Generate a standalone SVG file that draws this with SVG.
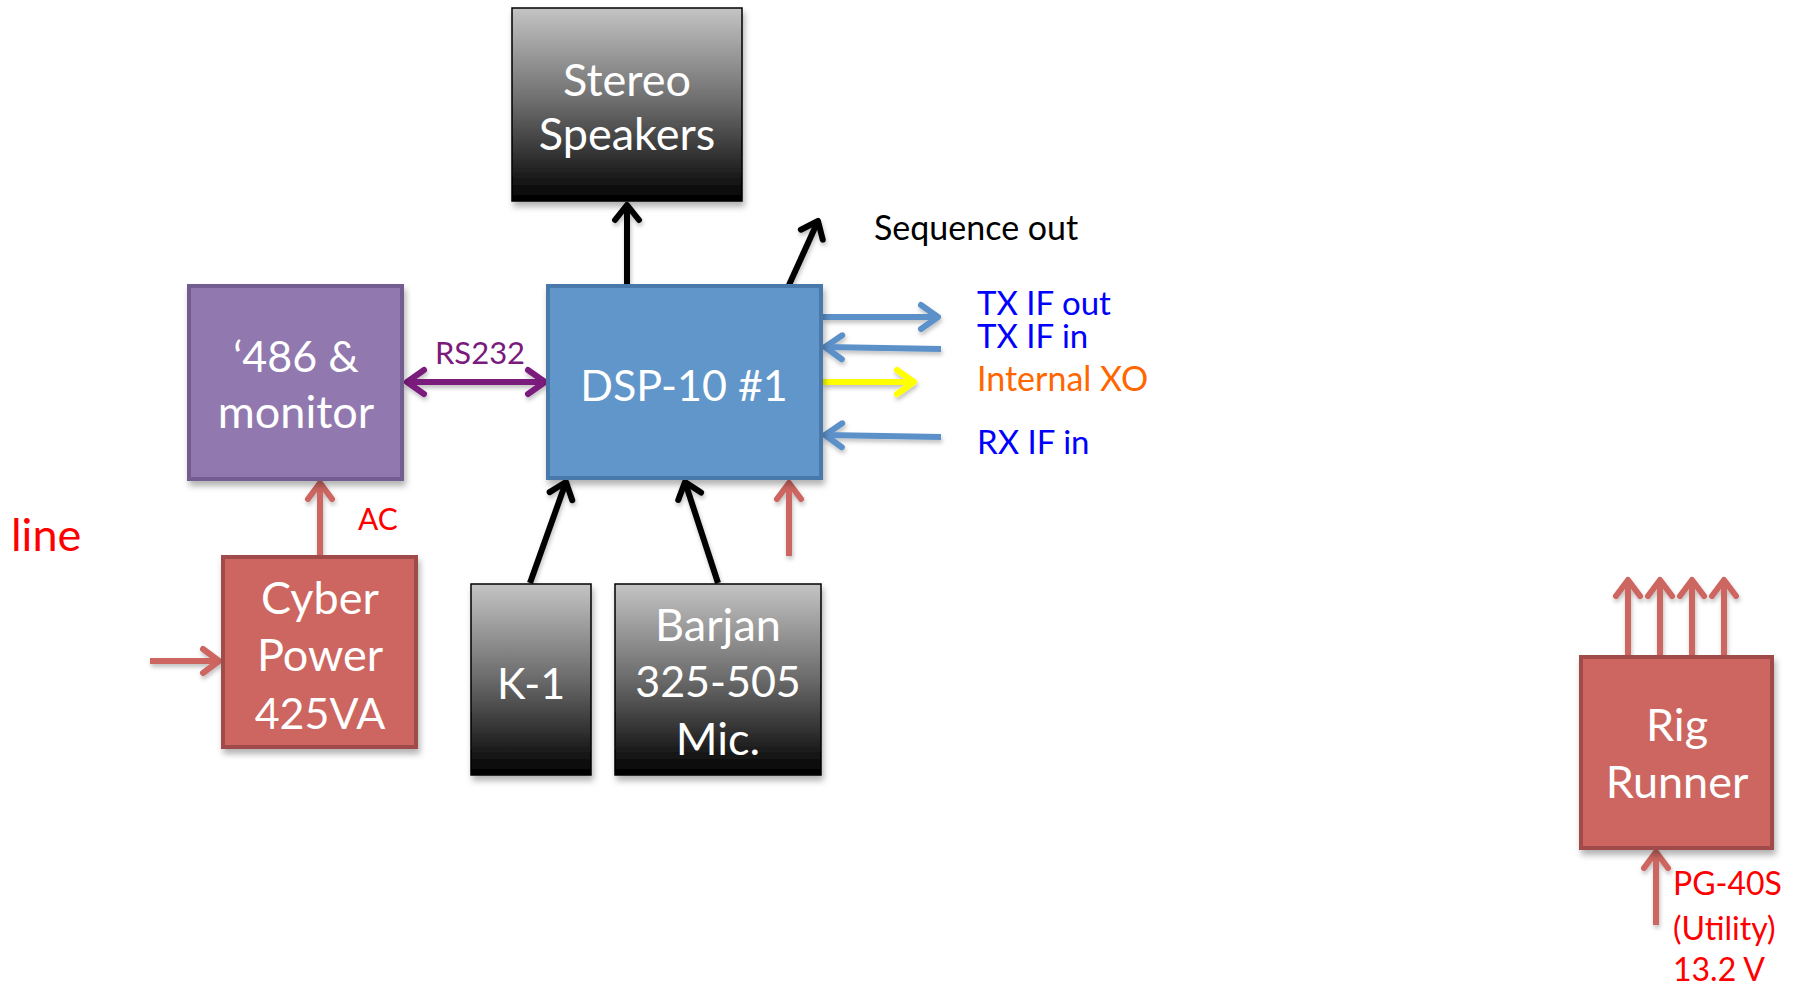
<svg xmlns="http://www.w3.org/2000/svg" width="1800" height="988" viewBox="0 0 1800 988">
<style>
.lbl{font-family:Lato,"Open Sans",sans-serif;fill:#fff;font-size:45px;text-anchor:middle}
.num{font-size:43px}
.t{font-family:Lato,"Open Sans",sans-serif}
.c{fill:none;stroke-width:6;stroke-linecap:butt}
.blk{stroke:#000}
.red{stroke:#cd6660}
.blu{stroke:#5b90c9}
.yel{stroke:#ffff00}
.pur{stroke:#7a1a7c}
</style>
<defs>
<linearGradient id="gg" x1="0" y1="0" x2="0" y2="1">
<stop offset="0" stop-color="#c4c4c4"/>
<stop offset="0.5" stop-color="#6a6a6a"/>
<stop offset="1" stop-color="#000"/>
</linearGradient>
<filter id="sh" x="-10%" y="-10%" width="125%" height="130%">
<feDropShadow dx="2" dy="5" stdDeviation="3" flood-color="#000" flood-opacity="0.3"/>
</filter>
<filter id="ls" x="-20%" y="-20%" width="140%" height="140%">
<feDropShadow dx="1" dy="3" stdDeviation="2" flood-color="#000" flood-opacity="0.25"/>
</filter>
<marker id="mB" viewBox="-22 -16 28 32" markerWidth="28" markerHeight="32" refX="0" refY="0" orient="auto" markerUnits="userSpaceOnUse"><path d="M-15,-12 L0,0 L-15,12" fill="none" stroke="#000" stroke-width="6" stroke-linecap="round" stroke-linejoin="round"/></marker>
<marker id="mR" viewBox="-22 -16 28 32" markerWidth="28" markerHeight="32" refX="0" refY="0" orient="auto" markerUnits="userSpaceOnUse"><path d="M-16,-12 L0,0 L-16,12" fill="none" stroke="#cd6660" stroke-width="6" stroke-linecap="round" stroke-linejoin="round"/></marker>
<marker id="mU" viewBox="-22 -16 28 32" markerWidth="28" markerHeight="32" refX="0" refY="0" orient="auto" markerUnits="userSpaceOnUse"><path d="M-17,-12 L0,0 L-17,12" fill="none" stroke="#5b90c9" stroke-width="6" stroke-linecap="round" stroke-linejoin="round"/></marker>
<marker id="mY" viewBox="-22 -16 28 32" markerWidth="28" markerHeight="32" refX="0" refY="0" orient="auto" markerUnits="userSpaceOnUse"><path d="M-17,-12 L0,0 L-17,12" fill="none" stroke="#ffff00" stroke-width="6" stroke-linecap="round" stroke-linejoin="round"/></marker>
<marker id="mP" viewBox="-22 -16 28 32" markerWidth="28" markerHeight="32" refX="0" refY="0" orient="auto-start-reverse" markerUnits="userSpaceOnUse"><path d="M-17,-12 L0,0 L-17,12" fill="none" stroke="#7a1a7c" stroke-width="6" stroke-linecap="round" stroke-linejoin="round"/></marker>
</defs>
<rect width="1800" height="988" fill="#fff"/>

<g id="connectors" filter="url(#ls)">
<line class="c blk" x1="627" y1="284" x2="627" y2="205" marker-end="url(#mB)"/>
<line class="c blk" x1="789" y1="285" x2="818" y2="221" marker-end="url(#mB)"/>
<line class="c blu" x1="823" y1="317" x2="938" y2="317" marker-end="url(#mU)"/>
<line class="c blu" x1="941" y1="349" x2="825" y2="347" marker-end="url(#mU)"/>
<line class="c yel" x1="823" y1="382" x2="914" y2="382" marker-end="url(#mY)"/>
<line class="c blu" x1="941" y1="437" x2="825" y2="435" marker-end="url(#mU)"/>
<line class="c pur" x1="407" y1="382" x2="545" y2="382" marker-start="url(#mP)" marker-end="url(#mP)"/>
<line class="c blk" x1="530" y1="583" x2="566" y2="482" marker-end="url(#mB)"/>
<line class="c blk" x1="718" y1="583" x2="685" y2="482" marker-end="url(#mB)"/>
<line class="c red" x1="789" y1="556" x2="789" y2="483" marker-end="url(#mR)"/>
<line class="c red" x1="320" y1="555" x2="320" y2="483" marker-end="url(#mR)"/>
<line class="c red" x1="150" y1="661" x2="219" y2="661" marker-end="url(#mR)"/>
<line class="c red" x1="1628" y1="655" x2="1628" y2="580" marker-end="url(#mR)"/>
<line class="c red" x1="1660" y1="655" x2="1660" y2="580" marker-end="url(#mR)"/>
<line class="c red" x1="1692" y1="655" x2="1692" y2="580" marker-end="url(#mR)"/>
<line class="c red" x1="1724" y1="655" x2="1724" y2="580" marker-end="url(#mR)"/>
<line class="c red" x1="1656" y1="925" x2="1656" y2="852" marker-end="url(#mR)"/>
</g>

<g id="speakers">
<rect x="512" y="8" width="230" height="193" fill="url(#gg)" stroke="#000" stroke-width="1.5" filter="url(#sh)"/>
<text class="lbl" x="627" y="96">Stereo</text>
<text class="lbl" x="627" y="150">Speakers</text>
</g>

<g id="pc">
<rect x="189" y="286" width="213" height="193" fill="#9179b0" stroke="#735c8f" stroke-width="4" filter="url(#sh)"/>
<text class="lbl num" x="296" y="372">‘486 &amp;</text>
<text class="lbl" x="296" y="428">monitor</text>
</g>

<g id="dsp">
<rect x="548" y="286" width="273" height="192" fill="#6096c9" stroke="#4a78ab" stroke-width="4" filter="url(#sh)"/>
<text class="lbl num" x="684" y="401">DSP-10 #1</text>
</g>

<g id="cyber">
<rect x="223" y="557" width="193" height="190" fill="#cd6660" stroke="#a04c48" stroke-width="4" filter="url(#sh)"/>
<text class="lbl" x="320" y="614">Cyber</text>
<text class="lbl" x="320" y="671">Power</text>
<text class="lbl num" x="320" y="729">425VA</text>
</g>

<g id="k1">
<rect x="471" y="584" width="120" height="191" fill="url(#gg)" stroke="#000" stroke-width="1.5" filter="url(#sh)"/>
<text class="lbl num" x="531" y="699">K-1</text>
</g>

<g id="mic">
<rect x="615" y="584" width="206" height="191" fill="url(#gg)" stroke="#000" stroke-width="1.5" filter="url(#sh)"/>
<text class="lbl" x="718" y="641">Barjan</text>
<text class="lbl num" x="718" y="697">325-505</text>
<text class="lbl" x="718" y="755">Mic.</text>
</g>

<g id="rigrunner">
<rect x="1581" y="657" width="191" height="191" fill="#cd6660" stroke="#a04c48" stroke-width="4" filter="url(#sh)"/>
<text class="lbl" x="1677" y="741">Rig</text>
<text class="lbl" x="1677" y="798">Runner</text>
</g>

<g id="labels">
<text class="t" x="480" y="364" font-size="31" fill="#7a1a7c" text-anchor="middle">RS232</text>
<text class="t" x="874" y="240" font-size="34" fill="#000">Sequence out</text>
<text class="t" x="977" y="315" font-size="33" fill="#0000ff">TX IF out</text>
<text class="t" x="977" y="348" font-size="33" fill="#0000ff">TX IF in</text>
<text class="t" x="977" y="391" font-size="34" fill="#ff6600">Internal XO</text>
<text class="t" x="977" y="454" font-size="33" fill="#0000ff">RX IF in</text>
<text class="t" x="358" y="530" font-size="30" fill="#ff0000">AC</text>
<text class="t" x="11" y="551" font-size="45" fill="#ff0000">line</text>
<text class="t" x="1673" y="895" font-size="32" fill="#ff0000">PG-40S</text>
<text class="t" x="1673" y="940" font-size="32" fill="#ff0000">(Utility)</text>
<text class="t" x="1673" y="981" font-size="32" fill="#ff0000">13.2 V</text>
</g>
</svg>
